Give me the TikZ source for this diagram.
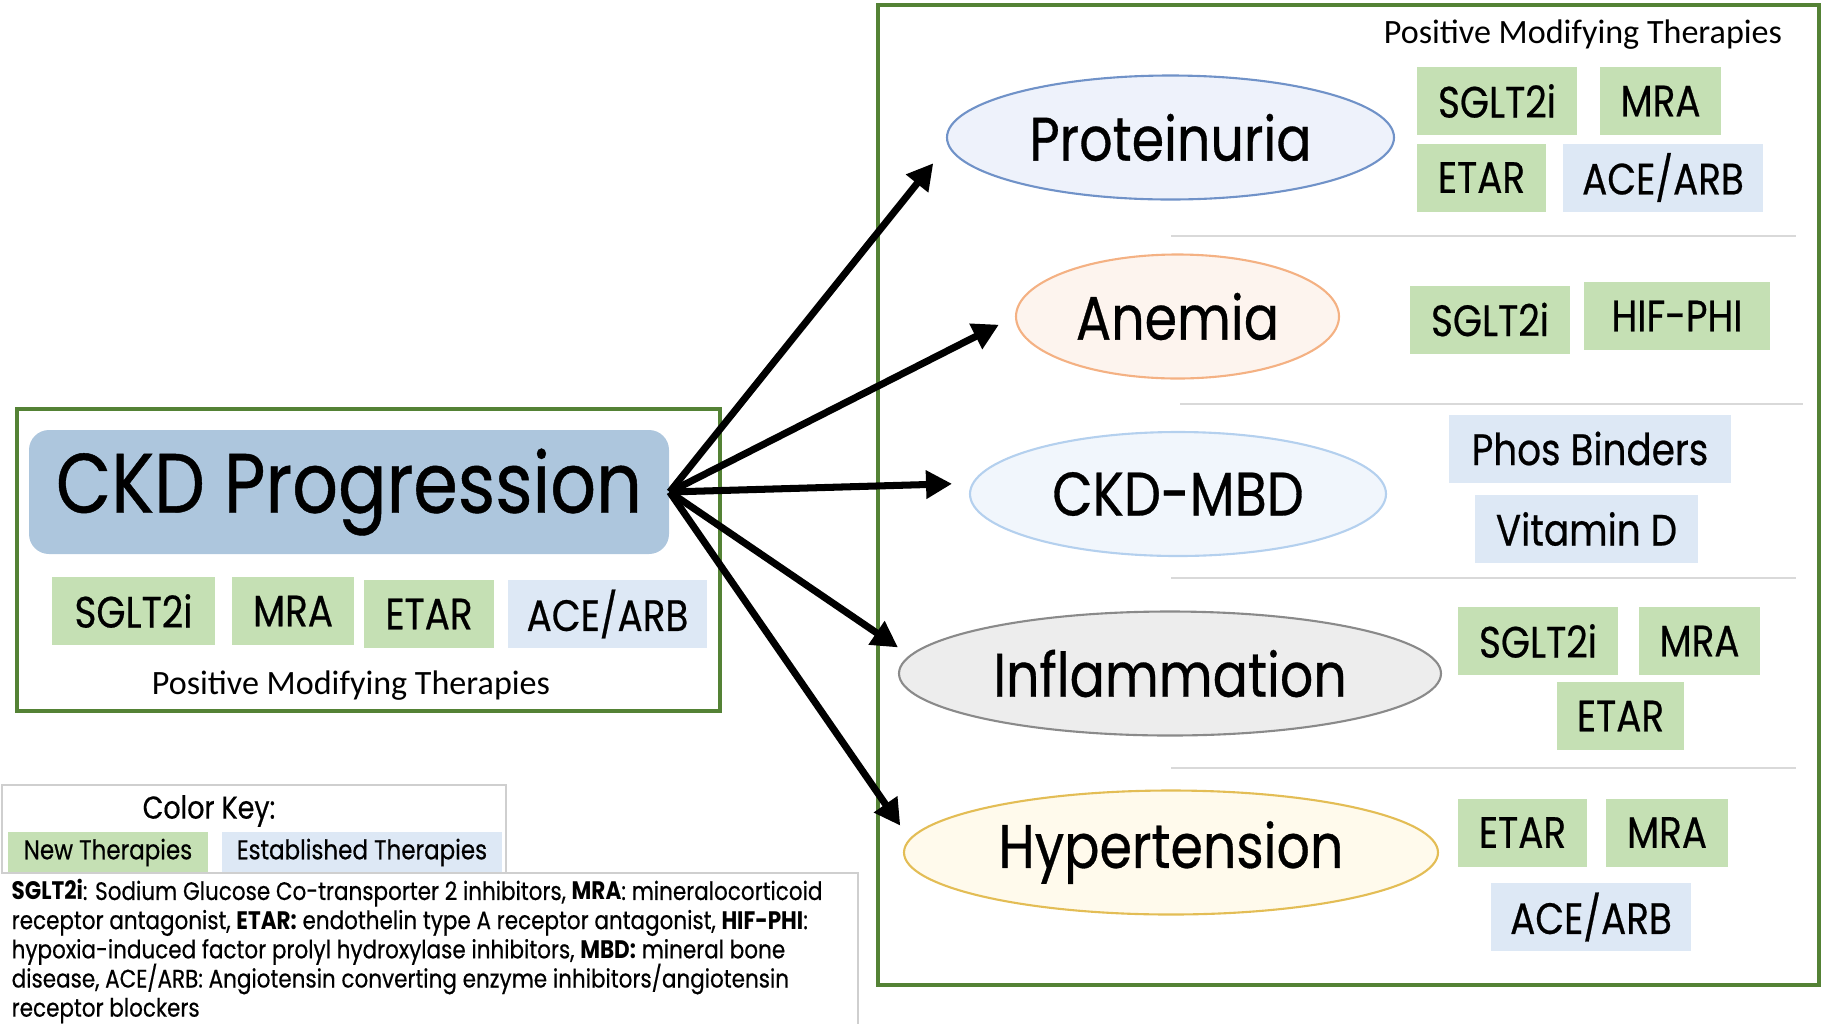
\documentclass[tikz,border=0pt]{standalone}
\usepackage{fontspec}
\setmainfont[FakeStretch=0.85, UprightFeatures={FakeBold=0.5}]{Poppins}
\newfontfamily\calfont{Carlito}
\usetikzlibrary{shapes.geometric,arrows.meta}
\definecolor{newgreen}{HTML}{C5E0B4}
\definecolor{oldblue}{HTML}{DDE8F5}
\definecolor{progblue}{HTML}{ADC6DD}
\definecolor{framegreen}{HTML}{548235}
\definecolor{sepgray}{HTML}{D9D9D9}
\definecolor{keygray}{HTML}{CFCFCF}
\definecolor{protline}{HTML}{7092C8}
\definecolor{protfill}{HTML}{EEF2FB}
\definecolor{anemline}{HTML}{F4B183}
\definecolor{anemfill}{HTML}{FDF4EE}
\definecolor{mbdline}{HTML}{B4D0EE}
\definecolor{mbdfill}{HTML}{F1F6FC}
\definecolor{inflline}{HTML}{8A8A8A}
\definecolor{inflfill}{HTML}{EDEDED}
\definecolor{hypline}{HTML}{E3BD55}
\definecolor{hypfill}{HTML}{FFFAEC}
\newcommand\abbrevfont{\fontsize{7.2}{8.3}\selectfont\lineskiplimit=-10pt\relax}

\begin{document}
\begin{tikzpicture}
\tikzstyle{every node}+=[inner sep=0pt]
\tikzstyle{newtx}=[fill=newgreen, minimum height=0.68cm, font=\fontsize{12.5}{14}\selectfont]
\tikzstyle{oldtx}=[fill=oldblue, minimum height=0.68cm, font=\fontsize{12.5}{14}\selectfont]
\tikzstyle{sympt}=[ellipse, minimum height=1.24cm, line width=0.6pt, font=\fontsize{17.5}{20}\selectfont]
\tikzstyle{frame}=[draw=framegreen, line width=1.1pt]
\tikzstyle{sepline}=[draw=sepgray, line width=0.6pt]
\tikzstyle{link}=[-{Triangle[length=7.4pt,width=7.7pt]}, line width=2pt]
\useasboundingbox (0,0) rectangle (18.21,-10.24);
% left panel
\draw [frame] (0.17,-4.09) rectangle (7.20,-7.11);
\node [fill=progblue, rounded corners=0.2cm, minimum width=6.40cm, minimum height=1.24cm,
  font=\fontsize{24}{28}\selectfont] (prog) at (3.49,-4.92) {\raisebox{-2pt}{CKD Progression}};
\node [newtx, minimum width=1.63cm] (ls1) at (1.335,-6.11) {SGLT2i};
\node [newtx, minimum width=1.22cm] (ls2) at (2.93,-6.11) {MRA};
\node [newtx, minimum width=1.30cm] (ls3) at (4.29,-6.14) {ETAR};
\node [oldtx, minimum width=1.99cm] (ls4) at (6.075,-6.14) {ACE/ARB};
\node [font=\calfont\fontsize{9.7}{11}\selectfont] (ltitle) at (3.51,-6.86) {Positive Modifying Therapies};
% right panel
\draw [frame] (8.78,-0.05) rectangle (18.19,-9.85);
\node [font=\calfont\fontsize{9.7}{11}\selectfont] (rtitle) at (15.83,-0.35) {Positive Modifying Therapies};
\node [sympt, draw=protline, fill=protfill, minimum width=4.47cm] (prot) at (11.705,-1.375) {Proteinuria};
\node [newtx, minimum width=1.60cm] (p1) at (14.97,-1.01) {SGLT2i};
\node [newtx, minimum width=1.21cm] (p2) at (16.605,-1.01) {MRA};
\node [newtx, minimum width=1.29cm] (p3) at (14.815,-1.775) {ETAR};
\node [oldtx, minimum width=2.00cm] (p4) at (16.63,-1.775) {ACE/ARB};
\draw [sepline] (11.71,-2.36) -- (17.96,-2.36);
\node [sympt, draw=anemline, fill=anemfill, minimum width=3.23cm] (anem) at (11.775,-3.165) {Anemia};
\node [newtx, minimum width=1.60cm] (a1) at (14.90,-3.195) {SGLT2i};
\node [newtx, minimum width=1.86cm] (a2) at (16.77,-3.16) {HIF-PHI};
\draw [sepline] (11.80,-4.04) -- (18.03,-4.04);
\node [sympt, draw=mbdline, fill=mbdfill, minimum width=4.16cm] (mbd) at (11.78,-4.94) {CKD-MBD};
\node [oldtx, minimum width=2.82cm] (m1) at (15.90,-4.485) {Phos Binders};
\node [oldtx, minimum width=2.23cm] (m2) at (15.865,-5.29) {Vitamin D};
\draw [sepline] (11.71,-5.78) -- (17.96,-5.78);
\node [sympt, draw=inflline, fill=inflfill, minimum width=5.42cm] (infl) at (11.70,-6.735) {Inflammation};
\node [newtx, minimum width=1.60cm] (i1) at (15.38,-6.41) {SGLT2i};
\node [newtx, minimum width=1.21cm] (i2) at (16.995,-6.41) {MRA};
\node [newtx, minimum width=1.27cm] (i3) at (16.205,-7.16) {ETAR};
\draw [sepline] (11.71,-7.68) -- (17.96,-7.68);
\node [sympt, draw=hypline, fill=hypfill, minimum width=5.34cm] (hyp) at (11.71,-8.525) {Hypertension};
\node [newtx, minimum width=1.29cm] (h1) at (15.225,-8.325) {ETAR};
\node [newtx, minimum width=1.22cm] (h2) at (16.67,-8.325) {MRA};
\node [oldtx, minimum width=2.00cm] (h3) at (15.91,-9.17) {ACE/ARB};
% arrows
\draw [link, shorten >=0.23cm] (prog.east) -- (prot.182);
\draw [link, shorten >=0.18cm] (prog.east) -- (anem.west);
\draw [link, shorten >=0.20cm] (prog.east) -- (mbd.177);
\draw [link, shorten >=0.14cm] (prog.east) -- (infl.176);
\draw [link, shorten >=0.16cm] (prog.east) -- (hyp.177);
% colour key
\draw [draw=keygray, line width=0.4pt] (0.02,-7.85) rectangle (5.06,-8.73);
\node [font=\fontsize{9}{11}\selectfont] (keytitle) at (2.09,-8.11) {Color Key:};
\node [fill=newgreen, minimum width=2.00cm, minimum height=0.41cm, font=\fontsize{7.7}{10}\selectfont] (keynew) at (1.08,-8.525) {New Therapies};
\node [fill=oldblue, minimum width=2.80cm, minimum height=0.41cm, font=\fontsize{7.7}{10}\selectfont] (keyold) at (3.62,-8.525) {Established Therapies};
\draw [draw=keygray, line width=0.4pt] (0.02,-8.73) -- (8.58,-8.73) -- (8.58,-10.24);
\node [anchor=north west, align=left, font=\abbrevfont] (abbrev) at (0.11,-8.79)
  {\textbf{SGLT2i}: Sodium Glucose Co-transporter 2 inhibitors, \textbf{MRA}: mineralocorticoid\\
   receptor antagonist, \textbf{ETAR:} endothelin type A receptor antagonist, \textbf{HIF-PHI}:\\
   hypoxia-induced factor prolyl hydroxylase inhibitors, \textbf{MBD:} mineral bone\\
   disease, ACE/ARB: Angiotensin converting enzyme inhibitors/angiotensin\\
   receptor blockers};
\end{tikzpicture}
\end{document}
